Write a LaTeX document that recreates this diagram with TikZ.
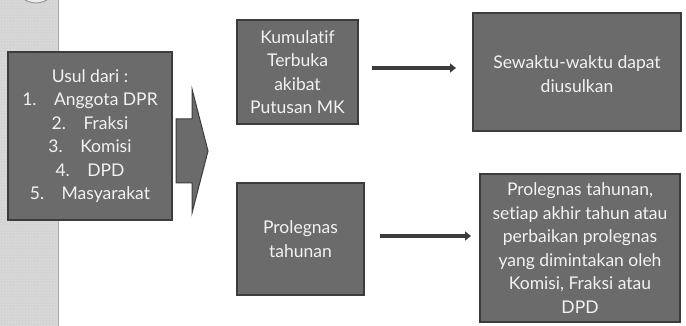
\documentclass[tikz,border=0pt]{standalone}
\usepackage{fontspec}
\setmainfont{Lato}[Ligatures={NoCommon}]
\usetikzlibrary{arrows.meta,patterns}
\definecolor{boxfill}{HTML}{6B6B6B}
\definecolor{boxedge}{HTML}{3C3C3C}
\definecolor{stripfill}{HTML}{D4D4D4}
\definecolor{txt}{HTML}{F2F2F2}
\tikzset{
  box/.style={draw=boxedge, line width=1.5pt, fill=boxfill, text=txt, align=center,
    inner sep=0pt, font=\fontsize{17.5}{23.5}\selectfont},
  conn/.style={draw=boxedge, line width=3.5pt, -{Triangle[length=6pt,width=9pt]}},
}
\begin{document}
\begin{tikzpicture}[x=1pt,y=-1pt]
\useasboundingbox (0,0) rectangle (686,326);
% left strip
\fill[stripfill] (0,0) rectangle (58,326);
\fill[pattern=dots, pattern color=white!70!stripfill] (0,0) rectangle (58,326);
\draw[gray!70, line width=1pt] (58,0) -- (58,326);
\begin{scope}
\clip (0,0) rectangle (686,326);
\draw[gray!80, fill=gray!15, line width=1pt] (36,-18) circle (21);
\end{scope}
% boxes
\node[box, minimum width=164, minimum height=168] (usul) at (90,136)
  {Usul dari :\\ 1.\quad Anggota DPR\\ 2.\quad Fraksi\\ 3.\quad Komisi\\ 4.\quad DPD\\ 5.\quad Masyarakat};
\node[box, minimum width=121, minimum height=104] (kum) at (297.5,72)
  {Kumulatif\\ Terbuka\\ akibat\\ Putusan MK};
\node[box, minimum width=208, minimum height=118] (sew) at (577,72) {};
\node[text=txt, align=center, font=\fontsize{17.5}{23.5}\selectfont, inner sep=0pt] (sewt) at (577,74)
  {Sewaktu-waktu dapat\\ diusulkan};
\node[box, minimum width=127, minimum height=112] (pro) at (300.5,239)
  {Prolegnas\\ tahunan};
\node[box, minimum width=200, minimum height=148] (ptah) at (580,248)
  {Prolegnas tahunan,\\ setiap akhir tahun atau\\ perbaikan prolegnas\\ yang dimintakan oleh\\ Komisi, Fraksi atau\\ DPD};
% block arrow
\draw[draw=boxedge, line width=1pt, fill=boxfill]
  (176,119) -- (192,119) -- (192,89) -- (208,151) -- (192,213) -- (192,183) -- (176,183) -- cycle;
% connectors
\coordinate (a1s) at (372,68);
\coordinate (a1e) at (456,68);
\coordinate (a2s) at (380,236);
\coordinate (a2e) at (471,236);
\draw[conn] (a1s) -- (a1e);
\draw[conn] (a2s) -- (a2e);
\end{tikzpicture}
\end{document}
